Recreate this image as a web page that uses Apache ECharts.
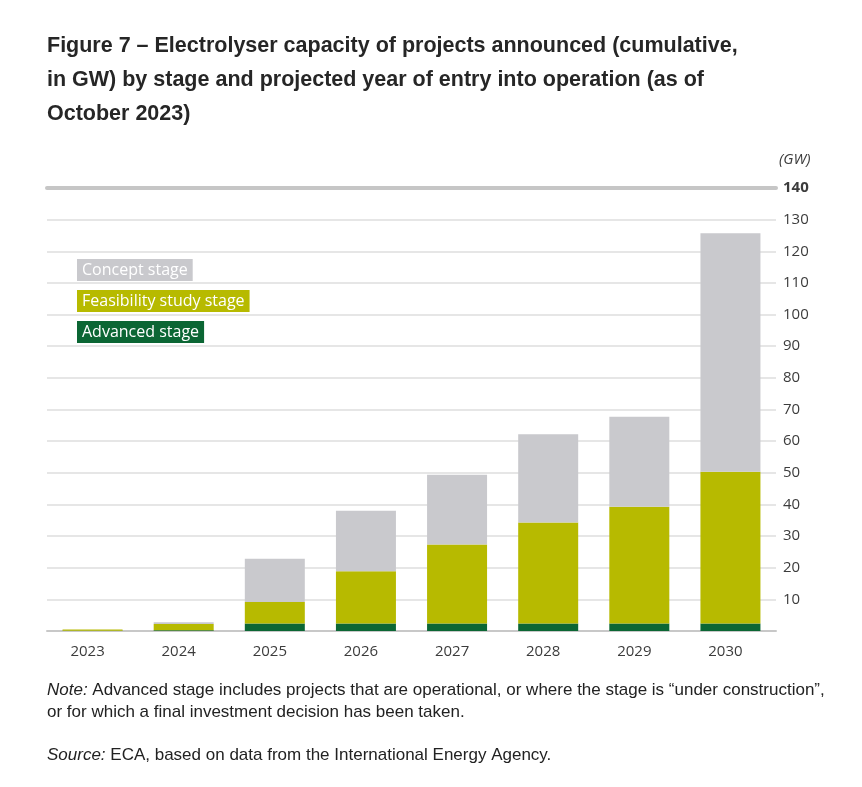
<!DOCTYPE html>
<html>
<head>
<meta charset="utf-8">
<script src="https://cdn.jsdelivr.net/npm/echarts@6/dist/echarts.min.js"></script>
<style>
html,body{margin:0;padding:0;background:#fff;}
#chart{width:862px;height:787px;}
</style>
</head>
<body>
<div id="chart"></div>
<script>
const years = ['2023','2024','2025','2026','2027','2028','2029','2030'];
const advanced = [0.1, 0.2, 2.4, 2.4, 2.4, 2.4, 2.4, 2.4];
const feasibility = [0.4, 2.0, 6.8, 16.5, 24.9, 31.9, 36.9, 47.9];
const concept = [0, 0.6, 13.6, 19.1, 22.1, 27.9, 28.4, 75.4];
const yTicks = {min: 0, max: 140, interval: 10};

const narrow = '"Liberation Sans", Arial, sans-serif';
const chartFont = '"Open Sans", "Noto Sans", sans-serif';
const textColor = '#3c3c3c';

const chart = echarts.init(document.getElementById('chart'));
chart.setOption({
  animation: false,
  backgroundColor: '#fff',
  title: {
    text: 'Figure 7 – Electrolyser capacity of projects announced (cumulative,\nin GW) by stage and projected year of entry into operation (as of\nOctober 2023)',
    left: 47, top: 29, padding: 0,
    textStyle: {fontFamily: narrow, fontWeight: 'bold', fontSize: 21.5, lineHeight: 34, color: '#262626'}
  },
  legend: {
    orient: 'vertical',
    left: 67, top: 254,
    itemWidth: 0, itemHeight: 22, itemGap: 9,
    icon: 'none',
    selectedMode: false,
    textStyle: {fontFamily: chartFont, fontSize: 16, lineHeight: 18, color: '#fff', padding: [2, 5, 2, 5]},
    data: [
      {name: 'Concept stage', textStyle: {backgroundColor: '#c9c9cd'}},
      {name: 'Feasibility study stage', textStyle: {backgroundColor: '#b7ba00'}},
      {name: 'Advanced stage', textStyle: {backgroundColor: '#0b6634'}}
    ]
  },
  grid: {left: 47, right: 86, top: 188, bottom: 156},
  xAxis: [{
    type: 'category',
    data: years,
    axisLine: {lineStyle: {color: '#c8c8c8', width: 2}},
    axisTick: {show: false},
    axisLabel: {fontFamily: chartFont, fontSize: 15, color: textColor, margin: 13, padding: [0, 10, 0, 0]}
  }, {
    type: 'category',
    data: years,
    position: 'top',
    axisLine: {lineStyle: {color: '#c6c6c6', width: 4}},
    axisTick: {show: false},
    axisLabel: {show: false}
  }],
  yAxis: {
    type: 'value',
    position: 'right',
    min: yTicks.min, max: yTicks.max, interval: yTicks.interval,
    axisLine: {show: false},
    axisTick: {show: false},
    splitLine: {lineStyle: {color: '#dedede', width: 1.5}},
    axisLabel: {
      fontFamily: chartFont, fontSize: 15, color: textColor, margin: 7,
      formatter: v => v === 0 ? '' : (v === 140 ? '{b|140}' : String(v)),
      rich: {b: {fontFamily: chartFont, fontSize: 15, fontWeight: 'bold', color: textColor}}
    }
  },
  series: [
    {name: 'Advanced stage', type: 'bar', stack: 'total', data: advanced, barWidth: 60, itemStyle: {color: '#0b6634'}},
    {name: 'Feasibility study stage', type: 'bar', stack: 'total', data: feasibility, barWidth: 60, itemStyle: {color: '#b7ba00'}},
    {name: 'Concept stage', type: 'bar', stack: 'total', data: concept, barWidth: 60, itemStyle: {color: '#c9c9cd'}}
  ],
  graphic: [
    {type: 'text', left: 779, top: 152, style: {text: '(GW)', font: 'italic 15px ' + chartFont, fill: textColor}},
    {type: 'text', left: 47, top: 679, style: {
      text: '{i|Note:} Advanced stage includes projects that are operational, or where the stage is “under construction”,\nor for which a final investment decision has been taken.',
      font: '17px ' + narrow, fill: '#222', lineHeight: 22,
      rich: {i: {fontStyle: 'italic', fontFamily: narrow, fontSize: 17, lineHeight: 22, fill: '#222'}}
    }},
    {type: 'text', left: 47, top: 744, style: {
      text: '{i|Source:} ECA, based on data from the International Energy Agency.',
      font: '17px ' + narrow, fill: '#222', lineHeight: 22,
      rich: {i: {fontStyle: 'italic', fontFamily: narrow, fontSize: 17, lineHeight: 22, fill: '#222'}}
    }}
  ]
});
</script>
</body>
</html>
